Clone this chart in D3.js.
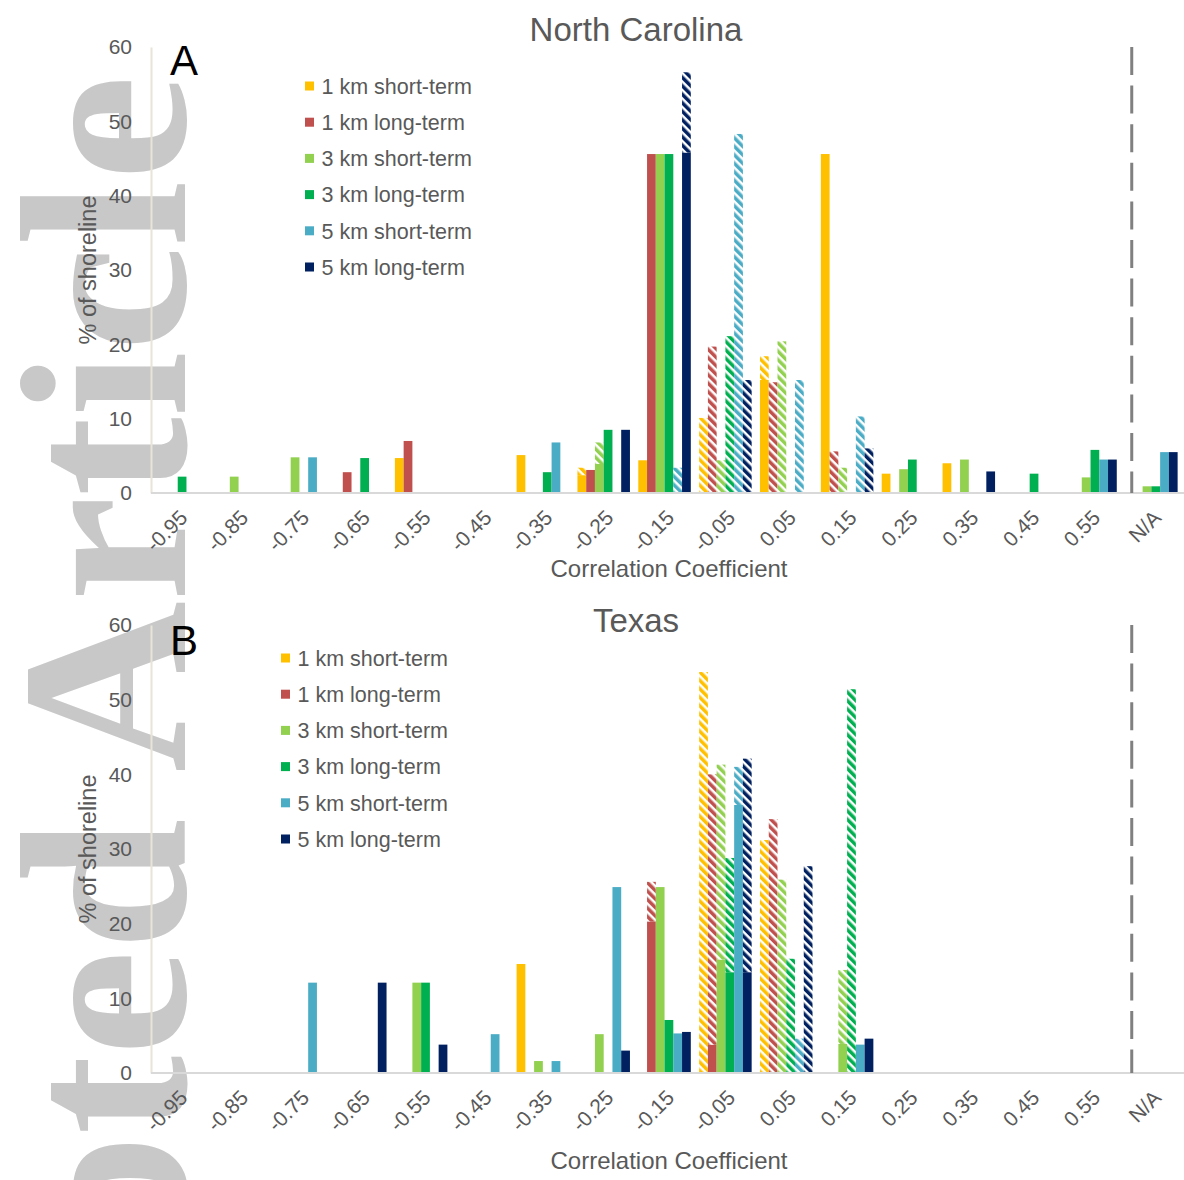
<!DOCTYPE html>
<html>
<head>
<meta charset="utf-8">
<script src="https://cdn.jsdelivr.net/npm/d3@7"></script>
<style>
  body { margin: 0; background: #fff; }
  svg text { font-family: "Liberation Sans", Arial, sans-serif; }
</style>
</head>
<body>
<div id="chart"></div>
<script>
const categories = ['-0.95', '-0.85', '-0.75', '-0.65', '-0.55', '-0.45', '-0.35', '-0.25',
  '-0.15', '-0.05', '0.05', '0.15', '0.25', '0.35', '0.45', '0.55', 'N/A'];
const seriesNames = ['1 km short-term', '1 km long-term', '3 km short-term',
  '3 km long-term', '5 km short-term', '5 km long-term'];
const seriesColors = ['#FFC000', '#C0504D', '#92D050', '#00B050', '#4BACC6', '#002060'];
const yTicks = [0, 10, 20, 30, 40, 50, 60];

// North Carolina: solid part (significant) and hatched part stacked on top
const ncSolid = [
  [0, 0, 0, 0, 4.7, 0, 5.1, 2.4, 4.4, 0, 15.2, 45.6, 2.6, 4.0, 0, 0, 0],
  [0, 0, 0, 2.8, 7.0, 0, 0, 3.1, 45.6, 0, 0, 0, 0, 0, 0, 0, 0],
  [0, 2.2, 4.8, 0, 0, 0, 0, 3.9, 45.6, 0, 0, 0, 3.2, 4.5, 0, 2.1, 0.9],
  [2.2, 0, 0, 4.7, 0, 0, 2.8, 8.5, 45.6, 0, 0, 0, 4.5, 0, 2.6, 5.8, 0.9],
  [0, 0, 4.8, 0, 0, 0, 6.8, 0, 0, 0, 0, 0, 0, 0, 0, 4.5, 5.5],
  [0, 0, 0, 0, 0, 0, 0, 8.5, 45.8, 0, 0, 0, 0, 2.9, 0, 4.5, 5.5]
];
const ncHatched = [
  [0, 0, 0, 0, 0, 0, 0, 1.0, 0, 10.1, 3.2, 0, 0, 0, 0, 0, 0],
  [0, 0, 0, 0, 0, 0, 0, 0, 0, 19.7, 14.9, 5.6, 0, 0, 0, 0, 0],
  [0, 0, 0, 0, 0, 0, 0, 2.9, 0, 4.4, 20.4, 3.4, 0, 0, 0, 0, 0],
  [0, 0, 0, 0, 0, 0, 0, 0, 0, 21.1, 0, 0, 0, 0, 0, 0, 0],
  [0, 0, 0, 0, 0, 0, 0, 0, 3.4, 48.3, 15.2, 10.3, 0, 0, 0, 0, 0],
  [0, 0, 0, 0, 0, 0, 0, 0, 10.8, 15.2, 0, 6.0, 0, 0, 0, 0, 0]
];

// Texas
const txSolid = [
  [0, 0, 0, 0, 0, 0, 14.6, 0, 0, 0, 0, 0, 0, 0, 0, 0, 0],
  [0, 0, 0, 0, 0, 0, 0, 0, 20.3, 3.8, 0, 0, 0, 0, 0, 0, 0],
  [0, 0, 0, 0, 12.1, 0, 1.6, 5.2, 24.9, 15.2, 0, 3.9, 0, 0, 0, 0, 0],
  [0, 0, 0, 0, 12.1, 0, 0, 0, 7.1, 13.5, 0, 0, 0, 0, 0, 0, 0],
  [0, 0, 12.1, 0, 0, 5.2, 1.6, 24.9, 5.3, 35.9, 0, 3.8, 0, 0, 0, 0, 0],
  [0, 0, 0, 12.1, 3.8, 0, 0, 3.0, 5.5, 13.5, 0, 4.6, 0, 0, 0, 0, 0]
];
const txHatched = [
  [0, 0, 0, 0, 0, 0, 0, 0, 0, 53.7, 31.2, 0, 0, 0, 0, 0, 0],
  [0, 0, 0, 0, 0, 0, 0, 0, 5.3, 36.2, 34.0, 0, 0, 0, 0, 0, 0],
  [0, 0, 0, 0, 0, 0, 0, 0, 0, 26.1, 25.9, 9.9, 0, 0, 0, 0, 0],
  [0, 0, 0, 0, 0, 0, 0, 0, 0, 15.3, 15.3, 51.4, 0, 0, 0, 0, 0],
  [0, 0, 0, 0, 0, 0, 0, 0, 0, 5.1, 4.6, 0, 0, 0, 0, 0, 0],
  [0, 0, 0, 0, 0, 0, 0, 0, 0, 28.6, 27.7, 0, 0, 0, 0, 0, 0]
];

const width = 1184;
const height = 1180;
const textColor = '#595959';

const svg = d3.select('#chart').append('svg')
  .attr('width', width)
  .attr('height', height);

const defs = svg.append('defs');
seriesColors.forEach((c, i) => {
  const p = defs.append('pattern')
    .attr('id', 'hatch' + i)
    .attr('patternUnits', 'userSpaceOnUse')
    .attr('width', 6)
    .attr('height', 6)
    .attr('patternTransform', 'rotate(-45)');
  p.append('rect').attr('width', 6).attr('height', 6).attr('fill', '#fff');
  p.append('rect').attr('width', 3.5).attr('height', 6).attr('fill', c);
});

// journal watermark behind the chart
const clip = defs.append('clipPath').attr('id', 'page');
clip.append('rect').attr('width', width).attr('height', height);
svg.append('g').attr('clip-path', 'url(#page)')
  .append('text')
  .attr('transform', 'translate(185,75) rotate(-90)')
  .attr('text-anchor', 'end')
  .style('font-family', '"Liberation Serif", "Times New Roman", serif')
  .style('font-weight', 'bold')
  .style('font-size', '237px')
  .attr('fill', '#c8c8c8')
  .text('Accepted Article');

function drawPanel(opt) {
  const g = svg.append('g');

  const x = d3.scaleBand().domain(categories).range([147.3, 1181.8]);
  const xs = d3.scaleBand().domain(d3.range(seriesNames.length))
    .range([0, x.bandwidth()]).paddingOuter(0.477);
  const y = d3.scaleLinear().domain([0, 60]).range([opt.bottom, opt.top]);

  // y axis
  const yAxis = g.append('g')
    .attr('transform', 'translate(151,0)')
    .call(d3.axisLeft(y).tickValues(yTicks).tickSize(0).tickSizeOuter(0).tickPadding(19));
  yAxis.select('.domain').attr('stroke', '#e8e4d8').attr('stroke-width', 2);
  yAxis.selectAll('text').style('font-size', '21px').attr('fill', textColor);

  // x axis
  const xAxis = g.append('g')
    .attr('transform', `translate(0,${opt.bottom})`)
    .call(d3.axisBottom(x).tickSize(0));
  xAxis.select('.domain').remove();
  xAxis.selectAll('text')
    .attr('x', 0).attr('y', 0).attr('dy', 0)
    .attr('transform', 'translate(11,26) rotate(-45)')
    .attr('text-anchor', 'end')
    .style('font-size', '21px')
    .attr('fill', textColor);

  const bars = [];
  seriesNames.forEach((name, i) => {
    categories.forEach((c, j) => {
      const s = opt.solid[i][j];
      const h = opt.hatched[i][j];
      if (s > 0) bars.push({ i, c, y0: 0, y1: s, hatch: false });
      if (h > 0) bars.push({ i, c, y0: s, y1: s + h, hatch: true });
    });
  });

  g.append('g').selectAll('rect')
    .data(bars)
    .join('rect')
    .attr('x', d => x(d.c) + xs(d.i))
    .attr('width', xs.bandwidth())
    .attr('y', d => y(d.y1))
    .attr('height', d => y(d.y0) - y(d.y1))
    .attr('fill', d => d.hatch ? `url(#hatch${d.i})` : seriesColors[d.i]);

  // baseline
  g.append('line')
    .attr('x1', 151).attr('x2', width)
    .attr('y1', y(0)).attr('y2', y(0))
    .attr('stroke', '#d9d9d9').attr('stroke-width', 2);

  // separator before N/A
  const sepX = x('N/A') + 10.8;
  g.append('line')
    .attr('x1', sepX).attr('x2', sepX)
    .attr('y1', y(60)).attr('y2', y(0))
    .attr('stroke', '#808080').attr('stroke-width', 3)
    .attr('stroke-dasharray', '28,10.6');

  g.append('text')
    .attr('x', 636).attr('y', opt.titleY)
    .attr('text-anchor', 'middle')
    .style('font-size', '33px')
    .attr('fill', textColor)
    .text(opt.title);

  g.append('text')
    .attr('x', 170).attr('y', opt.letterY)
    .style('font-size', '42px')
    .attr('fill', '#000')
    .text(opt.letter);

  g.append('text')
    .attr('transform', `translate(96,${(y(0) + y(60)) / 2}) rotate(-90)`)
    .attr('text-anchor', 'middle')
    .style('font-size', '23.5px')
    .attr('fill', textColor)
    .text('% of shoreline');

  g.append('text')
    .attr('x', 669).attr('y', opt.xTitleY)
    .attr('text-anchor', 'middle')
    .style('font-size', '24px')
    .attr('fill', textColor)
    .text('Correlation Coefficient');

  // legend
  const leg = g.append('g').selectAll('g')
    .data(seriesNames)
    .join('g')
    .attr('transform', (d, i) => `translate(${opt.legendX},${opt.legendY + i * 36.2})`);
  leg.append('rect')
    .attr('x', 0).attr('y', -4.5)
    .attr('width', 9).attr('height', 9)
    .attr('fill', (d, i) => seriesColors[i]);
  leg.append('text')
    .attr('x', 16.5).attr('dy', '0.36em')
    .style('font-size', '21.5px')
    .attr('fill', textColor)
    .text(d => d);
}

drawPanel({
  title: 'North Carolina', letter: 'A',
  top: 47, bottom: 493,
  titleY: 41, letterY: 75, xTitleY: 577,
  legendX: 305, legendY: 86,
  solid: ncSolid, hatched: ncHatched
});

drawPanel({
  title: 'Texas', letter: 'B',
  top: 625, bottom: 1073,
  titleY: 632, letterY: 655, xTitleY: 1169,
  legendX: 281, legendY: 658,
  solid: txSolid, hatched: txHatched
});
</script>
</body>
</html>
